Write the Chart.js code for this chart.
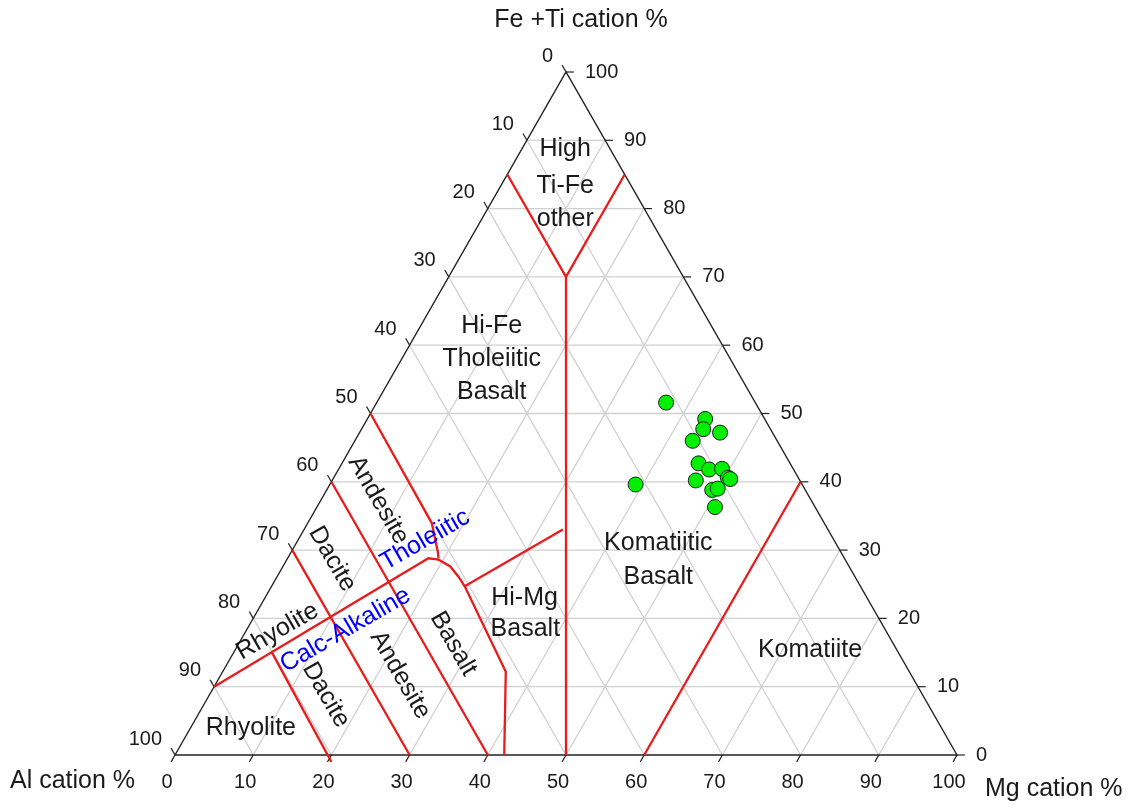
<!DOCTYPE html>
<html>
<head>
<meta charset="utf-8">
<script src="https://cdn.jsdelivr.net/npm/chart.js@4.4.0/dist/chart.umd.min.js"></script>
<style>
  html, body { margin: 0; padding: 0; background: #fff; }
</style>
</head>
<body>
<canvas id="chart" width="1142" height="810"></canvas>
<script>
// Muestras (cation %)
const alPct = [11.4, 7.6, 8.6, 6.7, 10.8, 11.7, 10.8, 9.1, 9.0, 8.8, 13.3, 21.3, 11.9, 11.1, 12.8];
const mgPct = [37.0, 43.2, 43.7, 46.1, 43.2, 45.6, 47.4, 49.0, 50.4, 50.8, 46.5, 39.1, 49.3, 49.9, 50.9];
const fePct = [51.6, 49.2, 47.7, 47.2, 46.0, 42.7, 41.8, 41.9, 40.6, 40.4, 40.2, 39.6, 38.8, 39.0, 36.3];

const tickVals = [0, 10, 20, 30, 40, 50, 60, 70, 80, 90, 100];

// Limites de campos (Jensen), pares [Mg, Fe]
const bHighTiFe  = [[0, 85], [15, 70], [15, 85]];
const bMgEqAl    = [[15, 70], [50, 0]];
const bKomatiite = [[60, 0], [60, 40]];
const bThCa      = [[0, 10], [18.0, 28.8], [19.4, 28.6], [21.4, 27.6], [23.2, 26.1], [24.7, 24.7], [36.2, 12.2], [42.1, 0]];
const bHiMg      = [[24.7, 24.7], [33.1, 33.0]];
const bThAndBas  = [[0, 50], [15.9, 33.9], [18.7, 29.8], [19.3, 28.8]];
const bAndBas    = [[0, 40], [40, 0]];
const bDacAnd    = [[0, 30], [30, 0]];
const bRhyDacCa  = [[4.8, 15.1], [20.5, -1.0]];

const regionText = ['High', 'Ti-Fe', 'other', 'Hi-Fe', 'Tholeiitic', 'Basalt', 'Komatiitic', 'Basalt',
  'Komatiite', 'Hi-Mg', 'Basalt', 'Rhyolite', 'Andesite', 'Dacite', 'Tholeiitic', 'Rhyolite',
  'Calc-Alkaline', 'Dacite', 'Andesite', 'Basalt'];

// posicion de cada texto en coords del grafico (x = Mg + Fe/2, y = Fe), rotacion, color
const regionPos = [
  [49.9, 88.7, 0], [49.9, 83.3, 0], [49.9, 78.5, 0],
  [40.5, 62.8, 0], [40.5, 58.0, 0], [40.5, 53.1, 0],
  [61.8, 31.0, 0], [61.8, 26.1, 0],
  [81.2, 15.4, 0],
  [44.7, 23.0, 0], [44.8, 18.4, 0],
  [9.7, 3.9, 0],
  [26.0, 37.3, 60], [20.1, 28.7, 60], [32.0, 31.5, -30, 'blue'], [13.1, 18.1, -30],
  [21.8, 18.3, -30, 'blue'], [19.3, 8.8, 60], [28.8, 11.7, 60], [35.6, 16.3, 60]
];

const toXY = (mg, fe) => ({ x: mg + fe / 2, y: fe });

const RED = 'rgb(232, 28, 28)';
const GRID = 'rgb(208, 208, 208)';
const FONT = '"Liberation Sans", Arial, sans-serif';

// order: mayor = se dibuja antes (debajo)
const datasets = [];
function addLine(pts, color, width, order) {
  datasets.push({
    data: pts.map(p => toXY(p[0], p[1])),
    showLine: true, borderColor: color, borderWidth: width,
    pointRadius: 0, fill: false, tension: 0, order
  });
}

// rejilla
tickVals.slice(1, -1).forEach(k => {
  addLine([[0, k], [100 - k, k]], GRID, 1.3, 4);
  addLine([[k, 0], [k, 100 - k]], GRID, 1.3, 4);
  addLine([[100 - k, 0], [0, 100 - k]], GRID, 1.3, 4);
});

// marcas de los ejes
tickVals.forEach(v => {
  const feL = 100 - v;
  addLine([[0, feL], [-1, feL + 1]], '#222', 1.2, 3);          // Al
  addLine([[100 - v, v], [101 - v, v]], '#222', 1.2, 3);       // Fe+Ti
  addLine([[v, 0], [v, -1]], '#222', 1.2, 3);                  // Mg
});

// triangulo
addLine([[0, 0], [100, 0], [0, 100], [0, 0]], '#222', 1.4, 3);

// limites
[bHighTiFe, bMgEqAl, bKomatiite, bThCa, bHiMg, bThAndBas, bAndBas, bDacAnd, bRhyDacCa]
  .forEach(b => addLine(b, RED, 2.3, 2));

// muestras
datasets.push({
  data: mgPct.map((mg, i) => toXY(mg, fePct[i])),
  pointRadius: 7.5, pointBackgroundColor: '#00f000',
  pointBorderColor: '#1a1a1a', pointBorderWidth: 1, showLine: false, order: 1
});

const textPlugin = {
  id: 'ternaryText',
  afterDatasetsDraw(chart) {
    const { ctx, scales: { x, y } } = chart;
    const px = (mg, fe) => x.getPixelForValue(mg + fe / 2);
    const py = fe => y.getPixelForValue(fe);
    ctx.save();
    ctx.fillStyle = '#1a1a1a';
    ctx.font = '20px ' + FONT;
    ctx.textBaseline = 'middle';
    tickVals.forEach(v => {
      ctx.textAlign = 'right';
      ctx.fillText(String(v), px(0, 100 - v) - 13, py(100 - v) - 16);
      ctx.textAlign = 'left';
      ctx.fillText(String(v), px(100 - v, v) + 19, py(v));
      ctx.textAlign = 'center';
      ctx.fillText(String(v), px(v, 0) - 8, py(0) + 27);
    });

    ctx.font = '25px ' + FONT;
    ctx.textAlign = 'center';
    ctx.fillText('Fe +Ti cation %', 581, 20);
    ctx.textAlign = 'left';
    ctx.fillText('Al cation %', 10, 781);
    ctx.fillText('Mg cation %', 985, 789);

    ctx.textAlign = 'center';
    regionText.forEach((t, i) => {
      const [lx, ly, rot, col] = regionPos[i];
      ctx.save();
      ctx.translate(x.getPixelForValue(lx), y.getPixelForValue(ly));
      ctx.rotate(rot * Math.PI / 180);
      ctx.fillStyle = col || '#1a1a1a';
      ctx.fillText(t, 0, 0);
      ctx.restore();
    });
    ctx.restore();
  }
};

new Chart(document.getElementById('chart'), {
  type: 'scatter',
  data: { datasets },
  options: {
    responsive: false,
    animation: false,
    layout: { padding: 0, autoPadding: false },
    plugins: { legend: { display: false }, tooltip: { enabled: false } },
    scales: {
      x: { type: 'linear', display: false, min: -175 / 7.82, max: 967 / 7.82 },
      y: { type: 'linear', display: false, min: -55 / 6.83, max: 755 / 6.83 }
    }
  },
  plugins: [textPlugin]
});
</script>
</body>
</html>
